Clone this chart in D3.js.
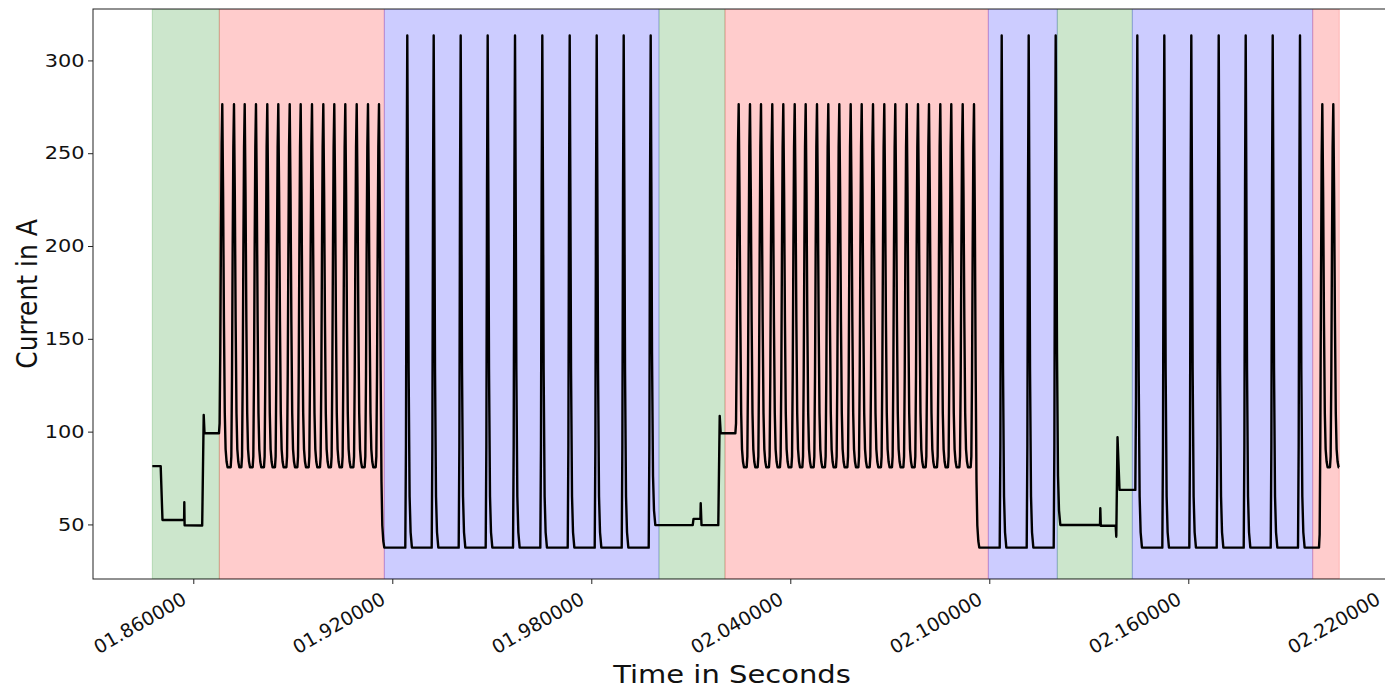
<!DOCTYPE html>
<html>
<head>
<meta charset="utf-8">
<script src="https://cdn.jsdelivr.net/npm/d3@7"></script>
<style>
  body { margin: 0; background: #fff; }
  svg { display: block; font-family: "DejaVu Sans", sans-serif; }
</style>
</head>
<body>
<div class="chart"></div>
<script>
const width = 1385;
const height = 690;

// phase bands: edges in seconds, one mode per band
const bandEdges = [1.84764, 1.86784, 1.91759, 2.00041, 2.02031, 2.09970, 2.12050, 2.14312, 2.19751, 2.20553];
const bandModes = ["green", "red", "blue", "green", "red", "blue", "green", "blue", "red"];

// pulse peak times (s)
const redPulsesA = [1.86874, 1.87227, 1.87550, 1.87890, 1.88231, 1.88563, 1.88907, 1.89238,
                    1.89579, 1.89920, 1.90251, 1.90583, 1.90927, 1.91267, 1.91599];
const bluePulsesA = [1.92452, 1.93248, 1.94062, 1.94876, 1.95700, 1.96523, 1.97349, 1.98163, 1.98977, 1.99791];
const redPulsesB = [2.02444, 2.02785, 2.03117, 2.03457, 2.03789, 2.04133, 2.04464, 2.04805, 2.05146, 2.05478, 2.05821,
                    2.06153, 2.06494, 2.06834, 2.07166, 2.07510, 2.07850, 2.08182, 2.08523, 2.08854, 2.09198, 2.09539];
const bluePulsesB = [2.10374, 2.11188, 2.12002];
const bluePulsesC = [2.14463, 2.15277, 2.16091, 2.16917, 2.17731, 2.18545, 2.19368];
const redPulsesC = [2.20041, 2.20372];

// current levels (A)
const redPeak = 276.4;
const redBase = 80.8;
const bluePeak = 313.4;
const blueBase = 37.5;

// stretches between pulse trains: [time s, current A]
const idleA = [[1.84764, 81.4], [1.85017, 81.4], [1.85071, 52.4], [1.85723, 52.4], [1.85729, 62.0],
               [1.85738, 49.5], [1.86268, 49.4], [1.86314, 109.0], [1.86338, 99.1], [1.86770, 99.1]];
const idleB = [[2.01058, 49.6], [2.01082, 53.0], [2.01290, 53.0], [2.01299, 61.4], [2.01323, 49.6],
               [2.01829, 49.6], [2.01872, 108.5], [2.01902, 99.1], [2.02340, 99.1]];
const idleC = [[2.13338, 49.7], [2.13347, 58.7], [2.13362, 49.3], [2.13811, 49.3], [2.13829, 43.4],
               [2.13866, 97.0], [2.13926, 68.6], [2.14342, 68.6]];
const traceEnd = [2.20545, redBase];

// pulse outlines as [ms from peak, share of the swing], rise then fall
const redRise = [[-1.0, 0], [-0.8, 0.03], [-0.6, 0.25], [-0.4, 0.6], [-0.2, 0.88]];
const redFall = [[0.25, 0.75], [0.5, 0.4], [0.75, 0.15], [1.0, 0.05], [1.3, 0.015], [1.6, 0]];
const blueRise = [[-0.6, 0], [-0.4, 0.2], [-0.2, 0.7]];
const blueFall = [[0.2, 0.7], [0.4, 0.35], [0.7, 0.1], [1.0, 0.03], [1.4, 0]];

const xTicks = [1.86, 1.92, 1.98, 2.04, 2.10, 2.16, 2.22];
const yTicks = [50, 100, 150, 200, 250, 300];

function pulseTrain(peaks, peakLevel, base, before, after, rise, fall) {
   const pts = [];
   let level = before;
   peaks.forEach((tp, i) => {
      const end = i === peaks.length - 1 ? after : base;
      rise.forEach(([dt, f]) => pts.push([tp + dt / 1000, level + f * (peakLevel - level)]));
      pts.push([tp, peakLevel]);
      fall.forEach(([dt, f]) => pts.push([tp + dt / 1000, end + f * (peakLevel - end)]));
      level = end;
   });
   return pts;
}

const trace = [
   ...idleA,
   ...pulseTrain(redPulsesA, redPeak, redBase, 99.1, blueBase, redRise, redFall),
   ...pulseTrain(bluePulsesA, bluePeak, blueBase, blueBase, 49.6, blueRise, blueFall),
   ...idleB,
   ...pulseTrain(redPulsesB, redPeak, redBase, 99.1, blueBase, redRise, redFall),
   ...pulseTrain(bluePulsesB, bluePeak, blueBase, blueBase, 49.7, blueRise, blueFall),
   ...idleC,
   ...pulseTrain(bluePulsesC, bluePeak, blueBase, 68.6, blueBase, blueRise, blueFall),
   ...pulseTrain(redPulsesC, redPeak, redBase, blueBase, redBase, redRise, redFall),
   traceEnd
];

const plotLeft = 93, plotRight = 1412, plotTop = 9, plotBottom = 579;

const x = d3.scaleLinear().domain([1.82976, 2.22745]).range([plotLeft, plotRight]);
const y = d3.scaleLinear().domain([20.6, 327.7]).range([plotBottom, plotTop]);

const svg = d3.select(".chart")
   .append("svg")
   .attr("width", width)
   .attr("height", height);

svg.append("clipPath")
   .attr("id", "plot-clip")
   .append("rect")
   .attr("x", plotLeft)
   .attr("y", plotTop)
   .attr("width", plotRight - plotLeft)
   .attr("height", plotBottom - plotTop);

const plot = svg.append("g").attr("clip-path", "url(#plot-clip)");

// background phases
plot.selectAll("rect.band")
   .data(bandModes)
   .enter()
   .append("rect")
   .attr("class", "band")
   .attr("x", (d, i) => x(bandEdges[i]))
   .attr("width", (d, i) => x(bandEdges[i + 1]) - x(bandEdges[i]))
   .attr("y", plotTop)
   .attr("height", plotBottom - plotTop)
   .attr("fill", (d) => d)
   .attr("fill-opacity", 0.2)
   .attr("stroke", (d) => d)
   .attr("stroke-opacity", 0.2)
   .attr("stroke-width", 1);

// current trace
plot.append("path")
   .datum(trace)
   .attr("fill", "none")
   .attr("stroke", "#000")
   .attr("stroke-width", 2.4)
   .attr("stroke-linejoin", "round")
   .attr("d", d3.line().x((d) => x(d[0])).y((d) => y(d[1])));

// axes
const yAxis = d3.axisLeft(y).tickValues(yTicks).tickSize(5).tickSizeOuter(0).tickPadding(3.5);
const gy = svg.append("g").attr("transform", `translate(${plotLeft},0)`).call(yAxis);
gy.select(".domain").remove();
gy.selectAll("line").attr("stroke", "#222");
gy.selectAll("text")
   .attr("fill", "#111")
   .attr("x", 0)
   .attr("transform", "translate(-8.5,0) scale(1.16,1)")
   .style("font-family", "DejaVu Sans")
   .style("font-size", "18px");

const xAxis = d3.axisBottom(x)
   .tickValues(xTicks)
   .tickSize(5)
   .tickSizeOuter(0)
   .tickFormat((d) => "0" + d.toFixed(6));
const gx = svg.append("g").attr("transform", `translate(0,${plotBottom})`).call(xAxis);
gx.select(".domain").remove();
gx.selectAll("line").attr("stroke", "#222");
gx.selectAll("text")
   .attr("fill", "#111")
   .attr("text-anchor", "end")
   .attr("x", -6)
   .attr("y", 24)
   .attr("dy", null)
   .attr("transform", "rotate(-30,-6,24)")
   .style("font-family", "DejaVu Sans")
   .style("font-size", "19px");

// frame
svg.append("rect")
   .attr("x", plotLeft)
   .attr("y", plotTop)
   .attr("width", plotRight - plotLeft)
   .attr("height", plotBottom - plotTop)
   .attr("fill", "none")
   .attr("stroke", "#222")
   .attr("stroke-width", 1);

svg.append("text")
   .attr("transform", "translate(732,683) scale(1.16,1)")
   .attr("text-anchor", "middle")
   .attr("fill", "#111")
   .style("font-size", "25px")
   .text("Time in Seconds");

svg.append("text")
   .attr("transform", "translate(37,294) scale(1.16,1) rotate(-90)")
   .attr("text-anchor", "middle")
   .attr("fill", "#111")
   .style("font-size", "25px")
   .text("Current in A");
</script>
</body>
</html>
